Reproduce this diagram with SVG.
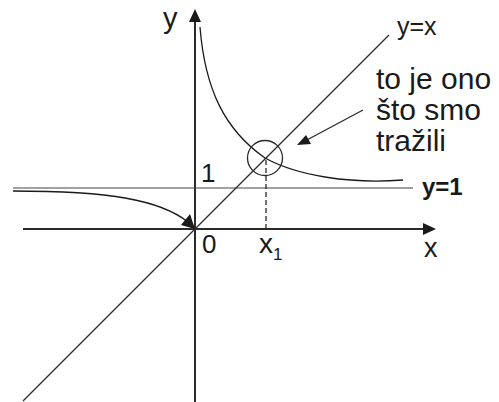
<svg xmlns="http://www.w3.org/2000/svg" width="499" height="402" viewBox="0 0 499 402">
<style>
.ax{stroke:#2a2a2a;stroke-width:2;fill:none}
.ln{stroke:#2a2a2a;stroke-width:1.3;fill:none}
.gl{stroke:#444;stroke-width:1.2;fill:none}
.cv{stroke:#1a1a1a;stroke-width:1.3;fill:none}
.ah{fill:#1a1a1a}
text{font-family:"Liberation Sans",Arial,sans-serif;fill:#1a1a1a}
</style>
<rect width="499" height="402" fill="#fff"/>
<g id="connectors">
<line id="y-axis" class="ax" x1="195" y1="402" x2="195" y2="20"/>
<polygon class="ah" points="195,9 189,22 201,22"/>
<line id="x-axis" class="ax" x1="23" y1="229" x2="425" y2="229"/>
<polygon class="ah" points="436,229 423,223 423,235"/>
<line id="line-y1" class="gl" x1="13" y1="188" x2="413" y2="188"/>
<line id="line-yx" class="ln" x1="23" y1="401" x2="389" y2="35"/>
<path id="curve-upper" class="cv" d="M200,27 C205,90 225,130 265,158 C298,176 350,184 403,180"/>
<path id="curve-lower" class="cv" d="M13,191 C110,191 160,200 188,222"/>
<polygon class="ah" points="195,229 181,225 190,214"/>
<line id="dash-x1" class="ln" stroke-dasharray="5 3" x1="266" y1="160" x2="266" y2="229"/>
<line id="pointer" class="ln" x1="363" y1="110" x2="305" y2="141"/>
<polygon class="ah" points="297,145 306,135 311,144"/>
</g>
<g id="circle-node"><circle cx="265" cy="158" r="17.5" class="ln"/></g>
<g id="label-y"><text x="163" y="28" font-size="29">y</text></g>
<g id="label-yx"><text x="397" y="35" font-size="25">y=x</text></g>
<g id="label-note">
<text x="376" y="89" font-size="30">to je ono</text>
<text x="376" y="120" font-size="30">što smo</text>
<text x="376" y="151" font-size="30">tražili</text>
</g>
<g id="label-y1"><text x="422" y="195" font-size="24" font-weight="bold">y=1</text></g>
<g id="label-1"><text x="201" y="182" font-size="26">1</text></g>
<g id="label-0"><text x="202" y="253" font-size="26">0</text></g>
<g id="label-x1"><text x="259" y="253" font-size="28">x<tspan font-size="17" dy="7">1</tspan></text></g>
<g id="label-x"><text x="424" y="257" font-size="27">x</text></g>
</svg>
